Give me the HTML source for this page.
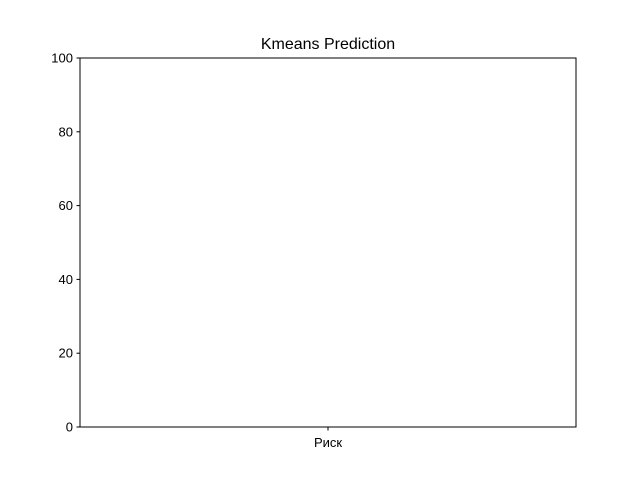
<!DOCTYPE html>
<html><head><meta charset="utf-8"><style>
html,body{margin:0;padding:0;background:#fff;}
svg{display:block;font-family:"Liberation Sans","DejaVu Sans",sans-serif;}
</style></head><body>
<svg id="chart" width="640" height="480" xmlns="http://www.w3.org/2000/svg">
<rect x="0" y="0" width="640" height="480" fill="#fff"/>
<text x="328" y="49" text-anchor="middle" font-size="16" fill="#000">Kmeans Prediction</text>
<g id="marks"></g>
<g id="yaxis"></g>
<g id="xaxis"></g>
<rect x="80" y="58" width="496" height="369" fill="none" stroke="#000" stroke-width="1"/>
</svg>
<script>
const categories = ["Риск"];
const values = [0];
const yTicks = [0, 20, 40, 60, 80, 100];

const L = 80, R = 576, T = 58, B = 427, yMin = 0, yMax = 100;
const ns = "http://www.w3.org/2000/svg";
function yScale(v){ return B - (v - yMin) / (yMax - yMin) * (B - T); }
function xScale(i){ return L + (i + 0.5) * (R - L) / categories.length; }
function mk(tag, attrs, parent){
  const e = document.createElementNS(ns, tag);
  for (const k in attrs) e.setAttribute(k, attrs[k]);
  parent.appendChild(e);
  return e;
}
const yg = document.getElementById("yaxis");
yTicks.forEach(t => {
  const y = yScale(t);
  const ln = mk("line", {x1: L - 3.5, x2: L, y1: y, y2: y, stroke: "#000"}, yg);
  
  
  const tx = mk("text", {x: L - 7, y: y + 4.5, "text-anchor": "end", "font-size": "13"}, yg);
  tx.textContent = t;
  
  
});
const xg = document.getElementById("xaxis");
const mg = document.getElementById("marks");
const bw = (R - L) / categories.length * 0.8;
categories.forEach((c, i) => {
  const x = xScale(i);
  const ln = mk("line", {x1: x, x2: x, y1: B, y2: B + 3.5, stroke: "#000"}, xg);
  
  
  const tx = mk("text", {x: x, y: B + 20, "text-anchor": "middle", "font-size": "13"}, xg);
  tx.textContent = c;
  
  
  const y = yScale(values[i]);
  const bar = mk("rect", {x: x - bw / 2, y: y, width: bw, height: Math.max(0, B - y), fill: "#1f77b4"}, mg);
  
  
});
</script>
</body></html>
